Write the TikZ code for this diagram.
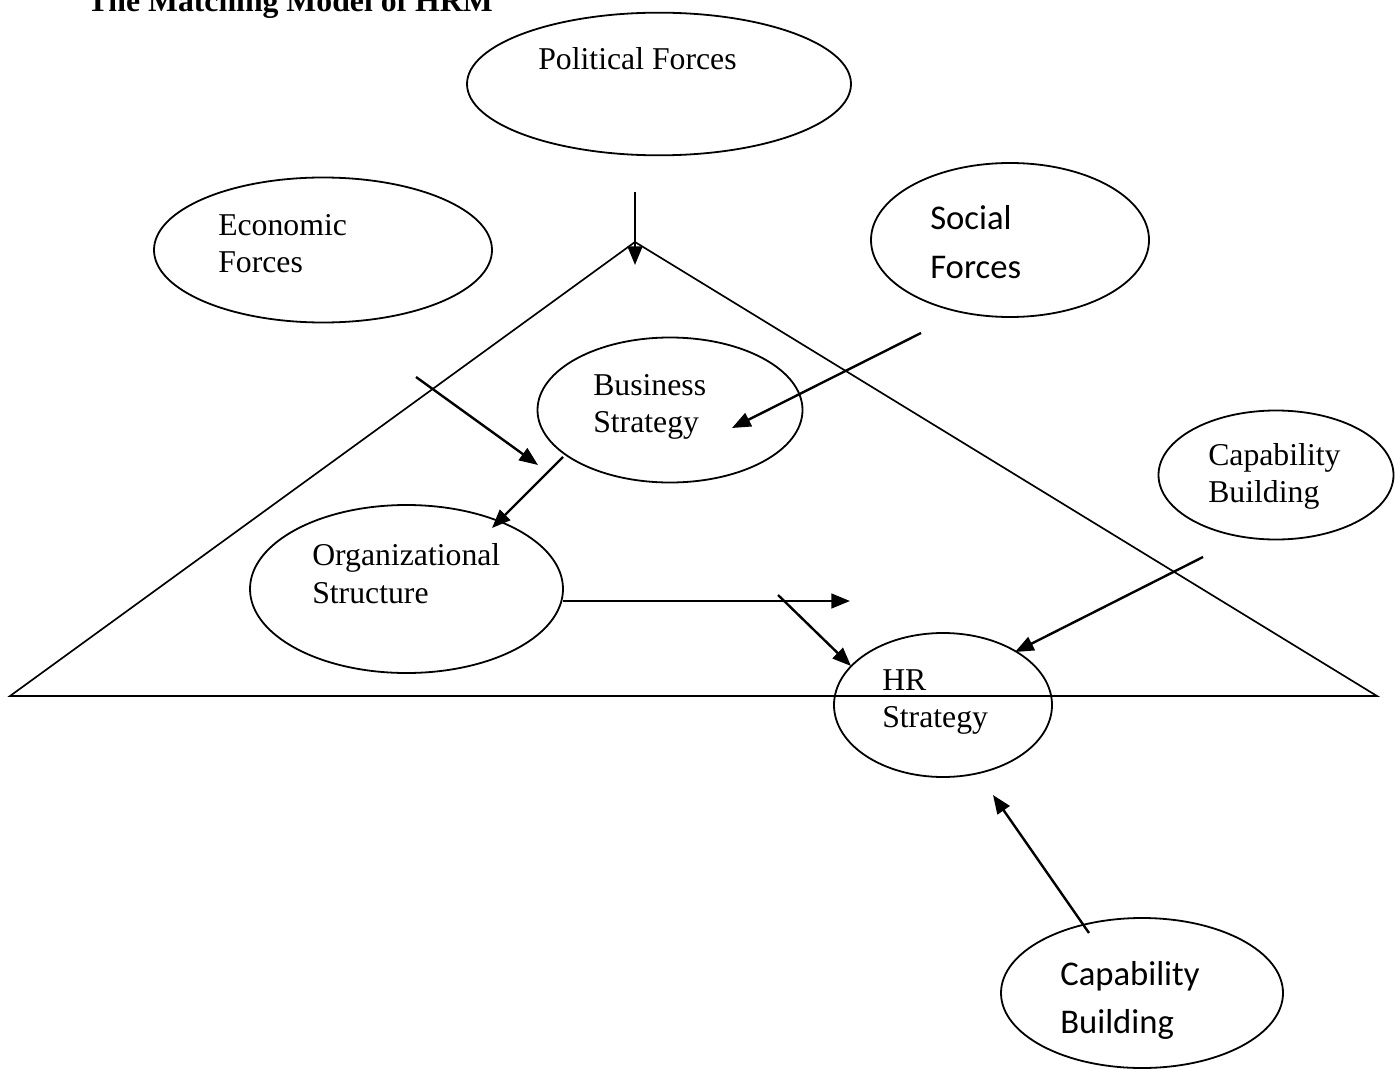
\documentclass[tikz,border=0pt]{standalone}
\usepackage{fontspec}
\setmainfont{Liberation Serif}
\newfontfamily\calfont{Carlito}
\usetikzlibrary{shapes.geometric,arrows.meta}
\begin{document}
\begin{tikzpicture}[x=0.75pt,y=-0.75pt,
  oval/.style={ellipse,draw,line width=1.35pt,inner sep=0pt},
  txt/.style={anchor=base west,inner sep=0pt,font=\fontsize{23.8}{27}\selectfont},
  stxt/.style={anchor=base west,inner sep=0pt,font=\calfont\fontsize{26}{30}\selectfont},
  arr/.style={line width=1.8pt,-{Triangle[length=14pt,width=11pt]}},
  tri/.style={line width=1.25pt}]
\useasboundingbox (0,0) rectangle (1395,1070);
% title
\node[txt,font=\bfseries\fontsize{23.8}{27}\selectfont] (title) at (87,12) {The Matching Model of HRM};
% triangle
\coordinate (apex) at (635,242);
\coordinate (bl) at (10,696);
\coordinate (br) at (1377,696);
\draw[tri,line join=miter] (bl) -- (apex) -- (br) -- cycle;
% ellipses
\node[oval,minimum width=288pt,minimum height=107pt] (pol) at (659,84) {};
\node[oval,minimum width=253.5pt,minimum height=108.75pt] (eco) at (323,250) {};
\node[oval,minimum width=208.5pt,minimum height=115.5pt] (soc) at (1010,240) {};
\node[oval,minimum width=198.75pt,minimum height=108.75pt] (bus) at (670,410) {};
\node[oval,minimum width=176.25pt,minimum height=96.75pt] (capr) at (1276,475) {};
\node[oval,minimum width=234.75pt,minimum height=126pt] (org) at (406.5,589) {};
\node[oval,minimum width=163.5pt,minimum height=108pt] (hr) at (943,705) {};
\node[oval,minimum width=211.5pt,minimum height=112.5pt] (capb) at (1142,993) {};
% texts
\node[txt] (polt) at (538,70) {Political Forces};
\node[txt] (ecot1) at (218,235) {Economic};
\node[txt] (ecot2) at (218,272) {Forces};
\node[stxt] (soct1) at (930,229) {Social};
\node[stxt] (soct2) at (930,278) {Forces};
\node[txt] (bust1) at (593,395) {Business};
\node[txt] (bust2) at (593,432) {Strategy};
\node[txt] (caprt1) at (1208,465) {Capability};
\node[txt] (caprt2) at (1208,502) {Building};
\node[txt] (orgt1) at (312,565) {Organizational};
\node[txt] (orgt2) at (312,603) {Structure};
\node[txt] (hrt1) at (882,690) {HR};
\node[txt] (hrt2) at (882,727) {Strategy};
\node[stxt] (capbt1) at (1060,985) {Capability};
\node[stxt] (capbt2) at (1060,1033) {Building};
% connector end points
\coordinate (p1) at (635,192);  \coordinate (p2) at (635,265);
\coordinate (e1) at (416,377);  \coordinate (e2) at (538,465);
\coordinate (s1) at (921,333);  \coordinate (s2) at (732,428);
\coordinate (b1) at (563,457);  \coordinate (b2) at (492,528);
\coordinate (o1) at (563,601);  \coordinate (o2) at (850,601);
\coordinate (d1) at (778,595);  \coordinate (d2) at (851,666);
\coordinate (c1) at (1203,557); \coordinate (c2) at (1015,652);
\coordinate (k1) at (1089,933); \coordinate (k2) at (993,795);
% connectors
\draw[arr] (p1) -- (p2);
\draw[arr] (e1) -- (e2);
\draw[arr] (s1) -- (s2);
\draw[arr] (b1) -- (b2);
\draw[arr] (o1) -- (o2);
\draw[arr] (d1) -- (d2);
\draw[arr] (c1) -- (c2);
\draw[arr] (k1) -- (k2);
\end{tikzpicture}
\end{document}
